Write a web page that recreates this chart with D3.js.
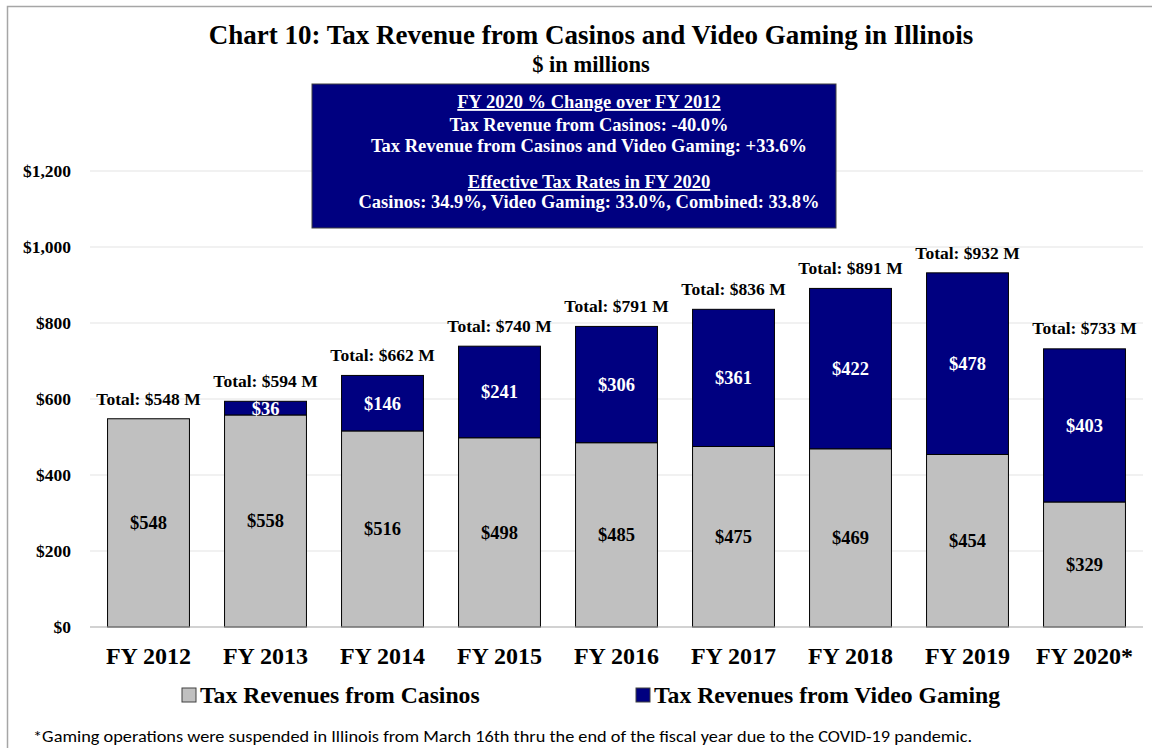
<!DOCTYPE html>
<html>
<head>
<meta charset="utf-8">
<script src="https://cdn.jsdelivr.net/npm/d3@7"></script>
<style>
  html, body { margin: 0; padding: 0; background: #ffffff; }
  svg { display: block; }
  .serif { font-family: "Liberation Serif", "Times New Roman", serif; font-weight: bold; }
</style>
</head>
<body>
<svg id="chart" width="1152" height="748"></svg>
<script>
// Fiscal years on the category axis
const years = ["FY 2012", "FY 2013", "FY 2014", "FY 2015", "FY 2016", "FY 2017", "FY 2018", "FY 2019", "FY 2020*"];
// Tax revenue from casinos, $ millions
const casinos = [548, 558, 516, 498, 485, 475, 469, 454, 329];
// Tax revenue from video gaming, $ millions
const videoGaming = [0, 36, 146, 241, 306, 361, 422, 478, 403];
// Combined totals as reported above each bar
const totals = [548, 594, 662, 740, 791, 836, 891, 932, 733];
// Value axis ticks
const yTicks = [0, 200, 400, 600, 800, 1000, 1200];
const seriesNames = ["Tax Revenues from Casinos", "Tax Revenues from Video Gaming"];
const boxLines = [
  "FY 2020 % Change over FY 2012",
  "Tax Revenue from Casinos: -40.0%",
  "Tax Revenue from Casinos and Video Gaming: +33.6%",
  "Effective Tax Rates in FY 2020",
  "Casinos: 34.9%, Video Gaming: 33.0%, Combined: 33.8%"
];

const GRAY = "#c0c0c0";
const NAVY = "#000080";

const svg = d3.select("#chart");

// Outer chart frame
svg.append("path")
  .attr("d", "M7.5,760 L7.5,6.5 L1160,6.5")
  .attr("fill", "none")
  .attr("stroke", "#a6a6a6")
  .attr("stroke-width", 1.5);

const x = d3.scaleBand().domain(years).range([90, 1143]).paddingInner(0.3).paddingOuter(0.15);
const y = d3.scaleLinear().domain([0, 1200]).range([627, 171]);

// Gridlines
svg.append("g")
  .selectAll("line")
  .data(yTicks.filter(d => d > 0))
  .join("line")
  .attr("x1", 90).attr("x2", 1143)
  .attr("y1", d => y(d)).attr("y2", d => y(d))
  .attr("stroke", "#e3e3e3")
  .attr("stroke-width", 1);

// Y axis labels
const yAxis = d3.axisLeft(y).tickValues(yTicks).tickSize(0).tickPadding(0)
  .tickFormat(d => "$" + d3.format(",")(d));
const yg = svg.append("g").attr("transform", "translate(71,0)").call(yAxis);
yg.select(".domain").remove();
yg.selectAll("text")
  .attr("class", "serif")
  .attr("font-size", 17.5)
  .attr("fill", "#000");

// Stacked data
const rows = years.map((yr, i) => ({ year: yr, casinos: casinos[i], video: videoGaming[i], total: totals[i] }));
const stack = d3.stack().keys(["casinos", "video"])(rows);
const colors = { casinos: GRAY, video: NAVY };

const layers = svg.append("g")
  .selectAll("g")
  .data(stack)
  .join("g")
  .attr("fill", d => colors[d.key]);

layers.selectAll("rect")
  .data(d => d.filter(s => s[1] - s[0] > 0))
  .join("rect")
  .attr("x", d => x(d.data.year))
  .attr("width", x.bandwidth())
  .attr("y", d => y(d[1]))
  .attr("height", d => y(d[0]) - y(d[1]))
  .attr("stroke", "#000")
  .attr("stroke-width", 1);

// Segment value labels
stack.forEach(layer => {
  svg.append("g")
    .selectAll("text")
    .data(layer.filter(s => s[1] - s[0] > 0))
    .join("text")
    .attr("class", "serif")
    .attr("font-size", 18.5)
    .attr("text-anchor", "middle")
    .attr("dy", "0.35em")
    .attr("fill", layer.key === "video" ? "#ffffff" : "#000000")
    .attr("x", d => x(d.data.year) + x.bandwidth() / 2)
    .attr("y", d => y((d[0] + d[1]) / 2))
    .text(d => "$" + (d[1] - d[0]));
});

// Axis baseline
svg.append("line")
  .attr("x1", 90).attr("x2", 1143)
  .attr("y1", y(0)).attr("y2", y(0))
  .attr("stroke", "#a6a6a6").attr("stroke-width", 1.2);

// Total labels
svg.append("g")
  .selectAll("text")
  .data(rows)
  .join("text")
  .attr("class", "serif")
  .attr("font-size", 17.5)
  .attr("text-anchor", "middle")
  .attr("x", d => x(d.year) + x.bandwidth() / 2)
  .attr("y", d => y(d.total) - 14)
  .text(d => "Total: $" + d.total + " M");

// Category labels
svg.append("g")
  .selectAll("text")
  .data(years)
  .join("text")
  .attr("class", "serif")
  .attr("font-size", 24)
  .attr("text-anchor", "middle")
  .attr("x", d => x(d) + x.bandwidth() / 2)
  .attr("y", 664)
  .text(d => d);

// Title
svg.append("text")
  .attr("class", "serif")
  .attr("font-size", 27)
  .attr("text-anchor", "middle")
  .attr("x", 591).attr("y", 44)
  .text("Chart 10: Tax Revenue from Casinos and Video Gaming in Illinois");
svg.append("text")
  .attr("class", "serif")
  .attr("font-size", 22.5)
  .attr("text-anchor", "middle")
  .attr("x", 591).attr("y", 72)
  .text("$ in millions");

// Summary box
svg.append("rect")
  .attr("x", 312).attr("y", 84)
  .attr("width", 524).attr("height", 144)
  .attr("fill", NAVY)
  .attr("stroke", "#404040").attr("stroke-width", 1);

const boxY = [108, 131, 152, 188, 208];
boxLines.forEach((t, i) => {
  svg.append("text")
    .attr("class", "serif")
    .attr("font-size", 18.5)
    .attr("fill", "#ffffff")
    .attr("text-anchor", "middle")
    .attr("x", 589).attr("y", boxY[i])
    .attr("text-decoration", (i === 0 || i === 3) ? "underline" : null)
    .text(t);
});

// Legend
const legendItems = [
  { name: seriesNames[0], color: GRAY, x: 182 },
  { name: seriesNames[1], color: NAVY, x: 636 }
];
const lg = svg.append("g");
legendItems.forEach(it => {
  lg.append("rect")
    .attr("x", it.x).attr("y", 688)
    .attr("width", 14).attr("height", 14)
    .attr("fill", it.color)
    .attr("stroke", "#404040").attr("stroke-width", 1);
  lg.append("text")
    .attr("class", "serif")
    .attr("font-size", 23.7)
    .attr("x", it.x + 18).attr("y", 703)
    .text(it.name);
});

// Footnote
svg.append("text")
  .attr("x", 33).attr("y", 742)
  .attr("font-family", "Carlito, Calibri, 'Open Sans', 'Liberation Sans', sans-serif")
  .attr("font-size", 15.5)
  .attr("fill", "#000")
  .attr("textLength", 939)
  .attr("lengthAdjust", "spacingAndGlyphs")
  .text("*Gaming operations were suspended in Illinois from March 16th thru the end of the fiscal year due to the COVID-19 pandemic.");
</script>
</body>
</html>
